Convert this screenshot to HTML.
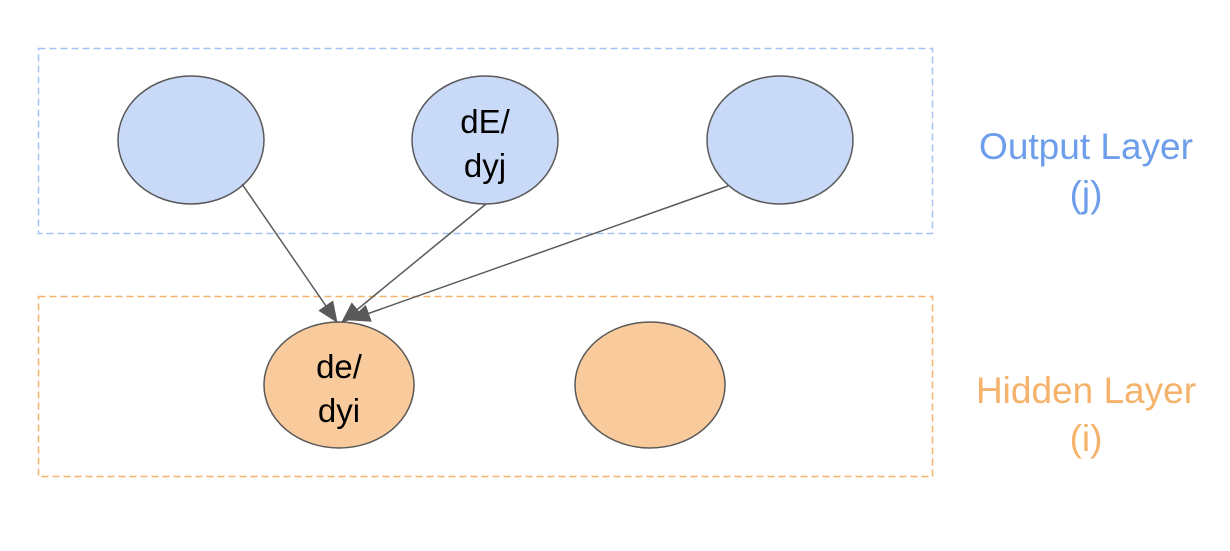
<!DOCTYPE html>
<html><head><style>body{margin:0;background:#fff}</style></head><body>
<svg width="1230" height="546" xmlns="http://www.w3.org/2000/svg" font-family="Liberation Sans, Arial, sans-serif">
<defs>
<marker id="b" markerWidth="22" markerHeight="18" refX="20" refY="9" orient="auto" markerUnits="userSpaceOnUse"><path d="M0,0 L21,9 L0,18z" fill="#595959"/></marker></defs>
<rect x="38.5" y="48.5" width="894" height="185" fill="none" stroke="#a4c2f4" stroke-width="1.5" stroke-dasharray="7,4"/>
<rect x="38.5" y="296.5" width="894" height="180" fill="none" stroke="#f6b26b" stroke-width="1.5" stroke-dasharray="7,4"/>
<g fill="#c9daf8" stroke="#595959" stroke-width="1.5">
<ellipse cx="191" cy="140" rx="73" ry="64"/>
<ellipse cx="485" cy="140" rx="73" ry="64"/>
<ellipse cx="780" cy="140" rx="73" ry="64"/>
</g>
<g fill="#f9cb9c" stroke="#595959" stroke-width="1.5">
<ellipse cx="339" cy="385" rx="75" ry="63"/>
<ellipse cx="650" cy="385" rx="75" ry="63"/>
</g>
<g stroke="#595959" stroke-width="1.5">
<line x1="242" y1="184" x2="337" y2="322" marker-end="url(#b)"/>
<line x1="486" y1="204" x2="342" y2="322" marker-end="url(#b)"/>
<line x1="728" y1="186" x2="350" y2="320" marker-end="url(#b)"/>
</g>
<g font-size="33" text-anchor="middle" fill="#000">
<text x="485" y="133">dE/</text><text x="485" y="177">dyj</text>
<text x="339" y="378">de/</text><text x="339" y="422">dyi</text>
</g>
<g font-size="37" text-anchor="middle">
<text x="1086" y="159" fill="#6d9eeb">Output Layer</text>
<text x="1086" y="207" fill="#6d9eeb">(j)</text>
<text x="1086" y="403" fill="#f6b26b">Hidden Layer</text>
<text x="1086" y="451" fill="#f6b26b">(i)</text>
</g>
</svg>
</body></html>
